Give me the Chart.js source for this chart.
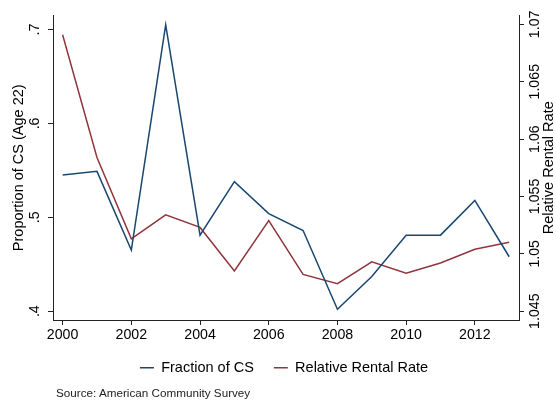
<!DOCTYPE html>
<html>
<head>
<meta charset="utf-8">
<script src="https://cdn.jsdelivr.net/npm/chart.js@4.4.0/dist/chart.umd.min.js"></script>
<style>
  body { margin: 0; background: #fff; }
  #wrap { position: relative; width: 556px; height: 407px; }
  #chart { display: block; }
  #source {
    position: absolute;
    left: 56px;
    top: 385px;
    font: 11.7px "Liberation Sans", Arial, sans-serif;
    line-height: 15px;
    color: #222;
  }
</style>
</head>
<body>
<div id="wrap">
  <canvas id="chart" width="556" height="407"></canvas>
  <div id="source">Source: American Community Survey</div>
</div>
<script>
const years = [2000, 2001, 2002, 2003, 2004, 2005, 2006, 2007, 2008, 2009, 2010, 2011, 2012, 2013];
const fractionCS = [0.545, 0.549, 0.465, 0.705, 0.481, 0.538, 0.504, 0.486, 0.402, 0.437, 0.481, 0.481, 0.518, 0.458];
const rentalRate = [1.0691, 1.0584, 1.0513, 1.0534, 1.0523, 1.0485, 1.0529, 1.0482, 1.0474, 1.0493, 1.0483, 1.0492, 1.0504, 1.0510];

const xTicks = [2000, 2002, 2004, 2006, 2008, 2010, 2012];
const leftTicks = [0.4, 0.5, 0.6, 0.7];
const leftTickLabels = [".4", ".5", ".6", ".7"];
const rightTicks = [1.045, 1.05, 1.055, 1.06, 1.065, 1.07];
const rightTickLabels = ["1.045", "1.05", "1.055", "1.06", "1.065", "1.07"];

const navy = "#1a476f";
const maroon = "#90353b";
const axisColor = "#222";

Chart.defaults.font.family = '"Liberation Sans", Arial, sans-serif';
Chart.defaults.font.size = 14.2;
Chart.defaults.color = "#000";

// right axis title reads bottom-to-top like the left one
const rightTitle = {
  id: "rightTitle",
  afterDraw(chart) {
    const { ctx, chartArea } = chart;
    ctx.save();
    ctx.translate(chart.scales.y1.right - 7, (chartArea.top + chartArea.bottom) / 2);
    ctx.rotate(-Math.PI / 2);
    ctx.font = '14.5px "Liberation Sans", Arial, sans-serif';
    ctx.fillStyle = "#000";
    ctx.textAlign = "center";
    ctx.textBaseline = "middle";
    ctx.fillText("Relative Rental Rate", 0, 0);
    ctx.restore();
  },
};

function setTicks(values) {
  return (scale) => {
    scale.ticks = values.map((v) => ({ value: v }));
  };
}

const ctx = document.getElementById("chart").getContext("2d");
const chart = new Chart(ctx, {
  type: "line",
  data: {
    datasets: [
      {
        label: "Fraction of CS",
        data: years.map((y, i) => ({ x: y, y: fractionCS[i] })),
        borderColor: navy,
        backgroundColor: navy,
        borderWidth: 1.5,
        pointRadius: 0,
        tension: 0,
        yAxisID: "y",
      },
      {
        label: "Relative Rental Rate",
        data: years.map((y, i) => ({ x: y, y: rentalRate[i] })),
        borderColor: maroon,
        backgroundColor: maroon,
        borderWidth: 1.5,
        pointRadius: 0,
        tension: 0,
        yAxisID: "y1",
      },
    ],
  },
  options: {
    responsive: false,
    animation: false,
    // left padding nudges the centred legend to the right
    layout: { padding: { top: 10, bottom: 22, left: 12, right: 0 } },
    plugins: {
      tooltip: { enabled: false },
      legend: {
        position: "bottom",
        labels: {
          usePointStyle: true,
          pointStyle: "line",
          pointStyleWidth: 14,
          boxWidth: 14,
          padding: 20,
          color: "#000",
          font: { size: 14.5 },
        },
      },
    },
    scales: {
      x: {
        type: "linear",
        min: 1999.72,
        max: 2013.285,
        afterBuildTicks: setTicks(xTicks),
        afterFit: (s) => { s.height = 20.5; },
        grid: { drawOnChartArea: false, drawTicks: true, tickLength: 5, color: axisColor },
        border: { display: true, color: axisColor, width: 1 },
        ticks: { autoSkip: false, padding: 2, maxRotation: 0, callback: (v) => String(v) },
      },
      y: {
        position: "left",
        min: 0.3906,
        max: 0.715,
        afterBuildTicks: setTicks(leftTicks),
        afterFit: (s) => { s.width = 41; },
        grid: { drawOnChartArea: false, drawTicks: true, tickLength: 5, color: axisColor },
        border: { display: true, color: axisColor, width: 1 },
        ticks: {
          autoSkip: false,
          minRotation: 90,
          maxRotation: 90,
          crossAlign: "center",
          padding: 7,
          callback: (v, i) => leftTickLabels[i],
        },
        title: {
          display: true,
          text: "Proportion of CS (Age 22)",
          padding: { top: -2, bottom: 0 },
          font: { size: 14.5 },
        },
      },
      y1: {
        position: "right",
        min: 1.04423,
        max: 1.07077,
        afterBuildTicks: setTicks(rightTicks),
        afterFit: (s) => { s.width = 37; },
        grid: { drawOnChartArea: false, drawTicks: true, tickLength: 5, color: axisColor },
        border: { display: true, color: axisColor, width: 1 },
        ticks: {
          autoSkip: false,
          minRotation: 90,
          maxRotation: 90,
          crossAlign: "center",
          padding: -6.5,
          callback: (v, i) => rightTickLabels[i],
        },
      },
    },
  },
  plugins: [rightTitle],
});
</script>
</body>
</html>
